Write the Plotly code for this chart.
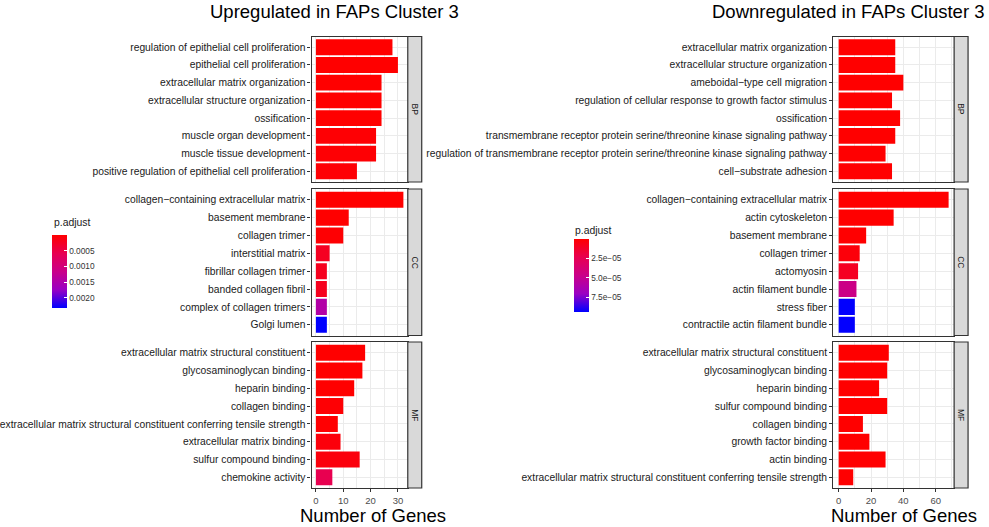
import plotly.graph_objects as go

# ---------------- data ----------------
left_bp_terms = ["regulation of epithelial cell proliferation", "epithelial cell proliferation",
                 "extracellular matrix organization", "extracellular structure organization",
                 "ossification", "muscle organ development", "muscle tissue development",
                 "positive regulation of epithelial cell proliferation"]
left_bp_counts = [28, 30, 24, 24, 24, 22, 22, 15]
left_bp_padj = [1.2e-6, 1.5e-6, 2.0e-6, 2.0e-6, 3.1e-6, 2.6e-5, 2.6e-5, 3.4e-5]

left_cc_terms = ["collagen\u2212containing extracellular matrix", "basement membrane", "collagen trimer",
                 "interstitial matrix", "fibrillar collagen trimer", "banded collagen fibril",
                 "complex of collagen trimers", "Golgi lumen"]
left_cc_counts = [32, 12, 10, 5, 4, 4, 4, 4]
left_cc_padj = [1.0e-12, 2.0e-6, 2.2e-5, 2.4e-4, 2.2e-4, 2.2e-4, 1.45e-3, 2.32e-3]

left_mf_terms = ["extracellular matrix structural constituent", "glycosaminoglycan binding", "heparin binding",
                 "collagen binding",
                 "extracellular matrix structural constituent conferring tensile strength",
                 "extracellular matrix binding", "sulfur compound binding", "chemokine activity"]
left_mf_counts = [18, 17, 14, 10, 8, 9, 16, 6]
left_mf_padj = [1e-10, 2e-7, 5e-7, 3e-5, 1.2e-5, 8e-5, 9e-5, 5.8e-4]

right_bp_terms = ["extracellular matrix organization", "extracellular structure organization",
                  "ameboidal\u2212type cell migration",
                  "regulation of cellular response to growth factor stimulus", "ossification",
                  "transmembrane receptor protein serine/threonine kinase signaling pathway",
                  "regulation of transmembrane receptor protein serine/threonine kinase signaling pathway",
                  "cell\u2212substrate adhesion"]
right_bp_counts = [35, 35, 40, 33, 38, 35, 29, 33]
right_bp_padj = [1e-12, 1e-12, 2e-9, 5e-9, 1e-8, 2e-8, 2e-7, 3e-7]

right_cc_terms = ["collagen\u2212containing extracellular matrix", "actin cytoskeleton", "basement membrane",
                  "collagen trimer", "actomyosin", "actin filament bundle", "stress fiber",
                  "contractile actin filament bundle"]
right_cc_counts = [68, 34, 17, 13, 12, 11, 10, 10]
right_cc_padj = [1e-25, 1e-8, 2e-7, 3e-6, 1.0e-5, 4.6e-5, 9.4e-5, 9.38e-5]

right_mf_terms = ["extracellular matrix structural constituent", "glycosaminoglycan binding", "heparin binding",
                  "sulfur compound binding", "collagen binding", "growth factor binding", "actin binding",
                  "extracellular matrix structural constituent conferring tensile strength"]
right_mf_counts = [31, 30, 25, 30, 15, 19, 29, 9]
right_mf_padj = [1e-15, 1e-13, 1e-11, 1e-10, 1e-8, 1e-7, 2e-7, 4e-7]

facet_names = ["BP", "CC", "MF"]
left_ticks = [0.0005, 0.0010, 0.0015, 0.0020]
left_ticktext = ["0.0005", "0.0010", "0.0015", "0.0020"]
right_ticks = [2.5e-05, 5.0e-05, 7.5e-05]
right_ticktext = ["2.5e\u221205", "5.0e\u221205", "7.5e\u221205"]
left_pmax = 0.00232
right_pmax = 9.42e-05

# ---------------- layout geometry (pixels) ----------------
W, H = 989, 527
FONT = "Liberation Sans, Arial, Helvetica, sans-serif"
left_x = (309.5, 406.0)
right_x = (832.7, 954.0)
strip_w = 14.0
facet_y = [(36.5, 182.0), (189.0, 335.5), (342.0, 488.0)]


def px(x):
    return x / W


def py(y):
    return 1 - y / H


# blue -> red (Lab-like interpolation as in ggplot), applied to -p so low p is at the top
colorscale = [[0.0, "#0000FF"], [0.25, "#9A00C3"], [0.5, "#CA0089"], [0.75, "#E80050"], [1.0, "#FF0000"]]

fig = go.Figure()

panels = [
    ("left", [(left_bp_terms, left_bp_counts, left_bp_padj),
              (left_cc_terms, left_cc_counts, left_cc_padj),
              (left_mf_terms, left_mf_counts, left_mf_padj)], left_x, [-1.6, 33.6], 10, 5, "coloraxis"),
    ("right", [(right_bp_terms, right_bp_counts, right_bp_padj),
               (right_cc_terms, right_cc_counts, right_cc_padj),
               (right_mf_terms, right_mf_counts, right_mf_padj)], right_x, [-3.4, 71.4], 20, 10, "coloraxis2"),
]

grid = "#EBEBEB"
border = "#333333"
shapes = []
annotations = []
idx = 0
for side, facets, xr, rng, dt, mdt, cax in panels:
    for fi, (terms, counts, padj) in enumerate(facets):
        idx += 1
        xa = "x" if idx == 1 else f"x{idx}"
        ya = "y" if idx == 1 else f"y{idx}"
        fig.add_trace(go.Bar(
            x=counts, y=terms, orientation="h",
            marker=dict(color=[-p for p in padj], coloraxis=cax, line=dict(width=0)),
            xaxis=xa, yaxis=ya, showlegend=False,
            customdata=padj,
            hovertemplate="%{y}<br>Count: %{x}<br>p.adjust: %{customdata:.3g}<extra></extra>",
        ))
        y0, y1 = facet_y[fi]
        bottom = fi == 2
        xkey = "xaxis" if idx == 1 else f"xaxis{idx}"
        ykey = "yaxis" if idx == 1 else f"yaxis{idx}"
        fig.layout[xkey] = dict(
            domain=[px(xr[0]), px(xr[1])], anchor=ya, range=rng, tick0=0, dtick=dt,
            showticklabels=bottom, ticks="outside" if bottom else "", ticklen=3, tickwidth=1,
            tickcolor=border, tickfont=dict(size=9.5, color="#4D4D4D", family=FONT),
            showgrid=True, gridcolor=grid, gridwidth=1.1,
            minor=dict(dtick=mdt, tick0=0, showgrid=True, gridcolor=grid, gridwidth=0.6),
            zeroline=False, showline=True, mirror=True, linecolor=border, linewidth=1.2,
            fixedrange=True,
        )
        n = len(terms)
        fig.layout[ykey] = dict(
            domain=[py(y1), py(y0)], anchor=xa, type="category",
            categoryorder="array", categoryarray=terms, range=[n - 1 + 0.6, -0.6],
            ticks="outside", ticklen=3, tickwidth=1, tickcolor=border,
            tickfont=dict(size=10.3, color="#1A1A1A", family=FONT),
            showgrid=True, gridcolor=grid, gridwidth=1.1,
            zeroline=False, showline=True, mirror=True, linecolor=border, linewidth=1.2,
            fixedrange=True,
        )
        # facet strip
        shapes.append(dict(type="rect", xref="paper", yref="paper",
                           x0=px(xr[1]), x1=px(xr[1] + strip_w), y0=py(y1), y1=py(y0),
                           fillcolor="#D9D9D9", line=dict(color=border, width=1.2), layer="above"))
        annotations.append(dict(xref="paper", yref="paper", x=px(xr[1] + strip_w / 2),
                                y=py((y0 + y1) / 2), text=facet_names[fi], textangle=90,
                                showarrow=False, font=dict(size=8.5, color="#1A1A1A", family=FONT),
                                xanchor="center", yanchor="middle"))

# titles
annotations += [
    dict(xref="paper", yref="paper", x=px(333), y=py(11), text="Upregulated in FAPs Cluster 3",
         showarrow=False, font=dict(size=18.5, color="black", family=FONT), xanchor="center", yanchor="middle"),
    dict(xref="paper", yref="paper", x=px(848), y=py(11), text="Downregulated in FAPs Cluster 3",
         showarrow=False, font=dict(size=18.5, color="black", family=FONT), xanchor="center", yanchor="middle"),
    dict(xref="paper", yref="paper", x=px(371), y=py(515), text="Number of Genes",
         showarrow=False, font=dict(size=18.5, color="black", family=FONT), xanchor="center", yanchor="middle"),
    dict(xref="paper", yref="paper", x=px(903.5), y=py(515), text="Number of Genes",
         showarrow=False, font=dict(size=18.5, color="black", family=FONT), xanchor="center", yanchor="middle"),
    dict(xref="paper", yref="paper", x=px(49), y=py(223), text="p.adjust",
         showarrow=False, font=dict(size=10.4, color="#1A1A1A", family=FONT), xanchor="left", yanchor="middle"),
    dict(xref="paper", yref="paper", x=px(572), y=py(230.5), text="p.adjust",
         showarrow=False, font=dict(size=10.4, color="#1A1A1A", family=FONT), xanchor="left", yanchor="middle"),
]


def cbar(x_left, y_top, vals, texts):
    return dict(
        x=px(x_left), xanchor="left", y=py(y_top), yanchor="top",
        len=72.7, lenmode="pixels", thickness=15, thicknessmode="pixels",
        xpad=0, ypad=0, outlinewidth=0,
        tickmode="array", tickvals=[-v for v in vals], ticktext=texts,
        ticks="inside", ticklen=3, tickcolor="white", tickwidth=1,
        tickfont=dict(size=8.3, color="#333333", family=FONT),
    )


fig.update_layout(
    width=W, height=H,
    margin=dict(l=0, r=0, t=0, b=0),
    paper_bgcolor="white", plot_bgcolor="white",
    bargap=0.1,
    font=dict(family=FONT),
    coloraxis=dict(colorscale=colorscale, cmin=-left_pmax, cmax=0,
                   colorbar=cbar(49.3, 235, left_ticks, left_ticktext)),
    coloraxis2=dict(colorscale=colorscale, cmin=-right_pmax, cmax=0,
                    colorbar=cbar(572.7, 239, right_ticks, right_ticktext)),
    shapes=shapes,
    annotations=annotations,
)

fig.write_html("out.html",
               config={"displayModeBar": False},
               post_script="document.body.style.margin='0';document.body.style.padding='0';"
                           "document.documentElement.style.overflow='hidden';")
